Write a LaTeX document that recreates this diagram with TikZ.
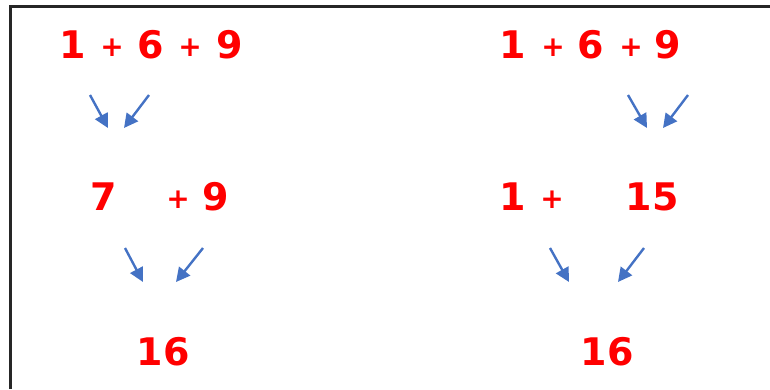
\documentclass[tikz,border=0pt]{standalone}
\usepackage{fontspec}
\setmainfont{DejaVu Sans}
\usetikzlibrary{arrows.meta}
\definecolor{numred}{HTML}{FF0000}
\definecolor{arrblue}{HTML}{4472C4}
\tikzset{
  num/.style={text=numred, font=\bfseries\fontsize{38}{42}\selectfont, anchor=base, inner sep=0pt},
  plus/.style={text=numred, font=\bfseries\fontsize{28}{32}\selectfont, anchor=base, inner sep=0pt},
  arr/.style={draw=arrblue, line width=2.4pt, -{Triangle[length=14pt,width=14pt]}},
  frame/.style={draw=black!85, line width=3pt}
}
\begin{document}
\begin{tikzpicture}[x=1pt,y=-1pt]
\useasboundingbox (0,0) rectangle (770,389);
\coordinate (fbl) at (10,389);
\coordinate (ftl) at (10,6);
\coordinate (ftr) at (770,6);
\draw[frame] (fbl) -- (ftl) -- (ftr);

% left column
\node[num]  (l1a) at (73,58) {1};
\node[plus] (l1p) at (112,56) {+};
\node[num]  (l1b) at (151,58) {6};
\node[plus] (l1q) at (190,56) {+};
\node[num]  (l1c) at (230,58) {9};

\coordinate (la1s) at (90,95);  \coordinate (la1e) at (108,128);
\coordinate (la2s) at (149,95); \coordinate (la2e) at (124,128);
\draw[arr] (la1s) -- (la1e);
\draw[arr] (la2s) -- (la2e);

\node[num]  (l2a) at (104,210) {7};
\node[plus] (l2p) at (178,208) {+};
\node[num]  (l2b) at (216,210) {9};

\coordinate (lb1s) at (125,248); \coordinate (lb1e) at (143,282);
\coordinate (lb2s) at (203,248); \coordinate (lb2e) at (176,282);
\draw[arr] (lb1s) -- (lb1e);
\draw[arr] (lb2s) -- (lb2e);

\node[num] (l3) at (163,365) {16};

% right column
\node[num]  (r1a) at (513,58) {1};
\node[plus] (r1p) at (553,56) {+};
\node[num]  (r1b) at (591,58) {6};
\node[plus] (r1q) at (631,56) {+};
\node[num]  (r1c) at (668,58) {9};

\coordinate (ra1s) at (628,95); \coordinate (ra1e) at (647,128);
\coordinate (ra2s) at (688,95); \coordinate (ra2e) at (663,128);
\draw[arr] (ra1s) -- (ra1e);
\draw[arr] (ra2s) -- (ra2e);

\node[num]  (r2a) at (513,210) {1};
\node[plus] (r2p) at (552,208) {+};
\node[num]  (r2b) at (652,210) {15};

\coordinate (rb1s) at (550,248); \coordinate (rb1e) at (569,282);
\coordinate (rb2s) at (644,248); \coordinate (rb2e) at (618,282);
\draw[arr] (rb1s) -- (rb1e);
\draw[arr] (rb2s) -- (rb2e);

\node[num] (r3) at (607,365) {16};
\end{tikzpicture}
\end{document}
